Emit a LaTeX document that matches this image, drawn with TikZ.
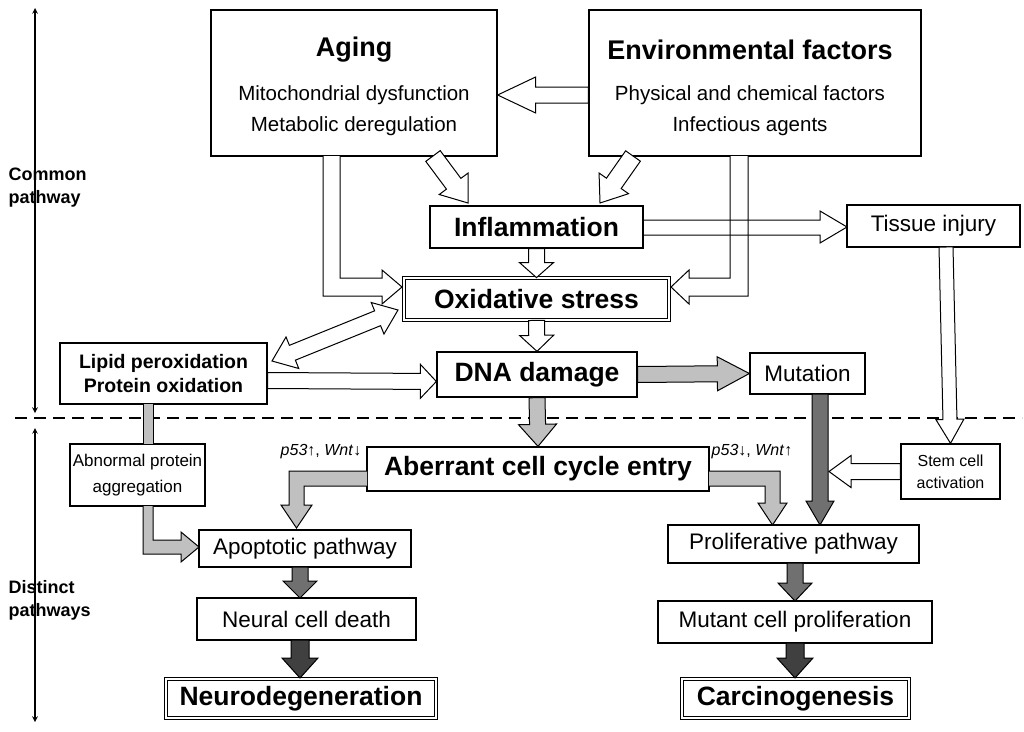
\documentclass[tikz,border=0pt]{standalone}
\usepackage{fontspec}
\setmainfont{Liberation Sans}
\usetikzlibrary{calc}
\definecolor{g1}{HTML}{C0C0C0}
\definecolor{g2}{HTML}{707070}
\definecolor{g3}{HTML}{404040}
\tikzset{
 box/.style={draw,line width=1.3pt,rectangle,inner sep=0pt,align=center},
 dbox/.style={draw,line width=0.8pt,double,double distance=1.6pt,rectangle,inner sep=0pt,align=center},
 ba/.style={line width=1pt,line join=miter},
 big/.style={font=\fontsize{26.5}{30}\selectfont\bfseries},
 mid/.style={font=\fontsize{22.5}{26}\selectfont},
 top/.style={font=\fontsize{20.5}{24}\selectfont},
 ttl/.style={font=\fontsize{27}{30}\selectfont\bfseries},
}
\newcommand\sarr[6]{%
 \path (#2) coordinate (sA) (#3) coordinate (sB);
 \path ($(sB)!#6pt!(sA)$) coordinate (sH);
 \filldraw[fill=#1,ba] ($(sA)!#4pt!90:(sB)$) -- ($(sH)!#4pt!-90:(sA)$) -- ($(sH)!#5pt!-90:(sA)$) -- (sB)
  -- ($(sH)!#5pt!90:(sA)$) -- ($(sH)!#4pt!90:(sA)$) -- ($(sA)!#4pt!-90:(sB)$) -- cycle;}
\newcommand\darr[6]{%
 \path (#2) coordinate (sA) (#3) coordinate (sB);
 \path ($(sB)!#6pt!(sA)$) coordinate (sH) ($(sA)!#6pt!(sB)$) coordinate (sG);
 \filldraw[fill=#1,ba] (sA) -- ($(sG)!#5pt!90:(sB)$) -- ($(sG)!#4pt!90:(sB)$) -- ($(sH)!#4pt!-90:(sA)$) -- ($(sH)!#5pt!-90:(sA)$) -- (sB)
  -- ($(sH)!#5pt!90:(sA)$) -- ($(sH)!#4pt!90:(sA)$) -- ($(sG)!#4pt!-90:(sB)$) -- ($(sG)!#5pt!-90:(sB)$) -- cycle;}
\begin{document}
\begin{tikzpicture}[x=1pt,y=-1pt]
\useasboundingbox (0,0) rectangle (1024,731);
% boxes
\node[box,minimum width=286,minimum height=146] (aging) at (354,83) {};
\node[ttl] (agt) at (354,50) {Aging};
\node[top] (ag1) at (354,95) {Mitochondrial dysfunction};
\node[top] (ag2) at (354,126) {Metabolic deregulation};
\node[box,minimum width=332,minimum height=146] (env) at (755,83) {};
\node[ttl] (ent) at (750,50) {Environmental factors};
\node[top] (en1) at (750,95) {Physical and chemical factors};
\node[top] (en2) at (750,126) {Infectious agents};
\node[box,big,minimum width=213,minimum height=42] (inf) at (536.5,227) {Inflammation};
\node[box,mid,minimum width=173,minimum height=42] (tis) at (933.5,226) {Tissue injury};
\node[dbox,big,minimum width=265,minimum height=42] (ox) at (536.5,299) {Oxidative stress};
\node[box,big,minimum width=200,minimum height=45] (dna) at (537,374.5) {DNA damage};
\node[box,minimum width=207,minimum height=61,font=\fontsize{19.5}{24}\selectfont\bfseries] (lip) at (163.5,373.5) {Lipid peroxidation\\Protein oxidation};
\node[box,mid,minimum width=115,minimum height=41] (mut) at (807.5,373.5) {Mutation};
\node[box,big,minimum width=342,minimum height=44] (abe) at (538,469) {Aberrant cell cycle entry};
\node[box,minimum width=135,minimum height=62,font=\fontsize{17}{26}\selectfont] (abn) at (137.5,475) {Abnormal protein\\aggregation};
\node[box,minimum width=99,minimum height=55,font=\fontsize{16}{22}\selectfont] (stem) at (950.5,471.5) {Stem cell\\activation};
\node[box,mid,minimum width=212,minimum height=37] (apo) at (305,548.5) {Apoptotic pathway};
\node[box,mid,minimum width=251,minimum height=38] (pro) at (793.5,544) {Proliferative pathway};
\node[box,mid,minimum width=219,minimum height=42] (neu) at (306.5,619) {Neural cell death};
\node[box,mid,minimum width=274,minimum height=42] (mcp) at (795,622) {Mutant cell proliferation};
\node[dbox,big,minimum width=270,minimum height=39] (neur) at (301,698.5) {Neurodegeneration};
\node[dbox,big,minimum width=227,minimum height=39] (car) at (795.5,698.5) {Carcinogenesis};
% labels
\node[font=\fontsize{16}{18}\selectfont] (l1) at (321,452) {\textit{p53}↑, \textit{Wnt}↓};
\node[font=\fontsize{16}{18}\selectfont] (l2) at (752,452) {\textit{p53}↓, \textit{Wnt}↑};
\node[font=\fontsize{18}{23}\selectfont\bfseries,align=left,anchor=west] (cp) at (5,188) {Common\\pathway};
\node[font=\fontsize{18}{23}\selectfont\bfseries,align=left,anchor=west] (dp) at (5,600) {Distinct\\pathways};
\coordinate (t1) at (35,8); \coordinate (t2) at (35,413);
\coordinate (t3) at (35,428); \coordinate (t4) at (35,722);
\draw[line width=1.5pt,<->,>=stealth] (t1) -- (t2);
\draw[line width=1.5pt,<->,>=stealth] (t3) -- (t4);
\coordinate (d1) at (15,418); \coordinate (d2) at (1022,418);
\draw[line width=2pt,dash pattern=on 12pt off 7pt] (d1) -- (d2);
% white arrows
\sarr{white}{$(env.west)+(0,12)$}{$(aging.east)+(0,12)$}{8}{18}{38}
\sarr{white}{433,156}{468,203}{9}{18}{24}
\sarr{white}{633,156}{600,203}{9}{18}{24}
\sarr{white}{inf.south}{ox.north}{8}{17}{15}
\sarr{white}{ox.south}{dna.north}{8}{17}{16}
\filldraw[fill=white,ba] (323,156) -- (323,296) -- (382,296) -- (382,304) -- (402,287) -- (382,270) -- (382,278) -- (340,278) -- (340,156);
\filldraw[fill=white,ba] (748,156) -- (748,296) -- (689,296) -- (689,304) -- (671,287) -- (689,270) -- (689,278) -- (730,278) -- (730,156);
\filldraw[fill=none,ba] (643,220) -- (820,220) -- (820,211) -- (847,227) -- (820,243) -- (820,235) -- (643,235);
\sarr{white}{946,247}{stem.north}{7}{14}{24}
\darr{white}{272,361}{398,310}{8}{17}{22}
\sarr{white}{$(lip.east)+(0,7)$}{$(dna.west)+(0,7)$}{8}{17}{16}
\sarr{white}{stem.west}{829,471.5}{8}{16}{22}
% gray arrows
\sarr{g1}{dna.east}{mut.west}{8}{17}{32}
\sarr{g1}{dna.south}{abe.north}{8}{19}{22}
\filldraw[fill=g1,ba] (143,404) -- (143,444) -- (153,444) -- (153,404);
\filldraw[fill=g1,ba] (143,506) -- (143,554) -- (181,554) -- (181,562) -- (199,547) -- (181,532) -- (181,540) -- (153,540) -- (153,506);
\filldraw[fill=g1,ba] (367,471) -- (289,471) -- (289,505) -- (281,505) -- (296.5,528) -- (312,505) -- (304,505) -- (304,486) -- (367,486);
\filldraw[fill=g1,ba] (709,471) -- (780,471) -- (780,503) -- (787,503) -- (772.5,525) -- (758,503) -- (765,503) -- (765,486) -- (709,486);
\sarr{g2}{820,394}{820,525}{8}{14}{24}
\coordinate (a1) at (300,567); \coordinate (a2) at (300,598);
\coordinate (b1) at (795,563); \coordinate (b2) at (795,601);
\coordinate (c1) at (300,640); \coordinate (c2) at (300,678);
\coordinate (e1) at (795,643); \coordinate (e2) at (795,678);
\sarr{g2}{a1}{a2}{8}{17}{17}
\sarr{g2}{b1}{b2}{8}{17}{18}
\sarr{g3}{c1}{c2}{9}{18}{20}
\sarr{g3}{e1}{e2}{9}{18}{20}
\end{tikzpicture}
\end{document}
